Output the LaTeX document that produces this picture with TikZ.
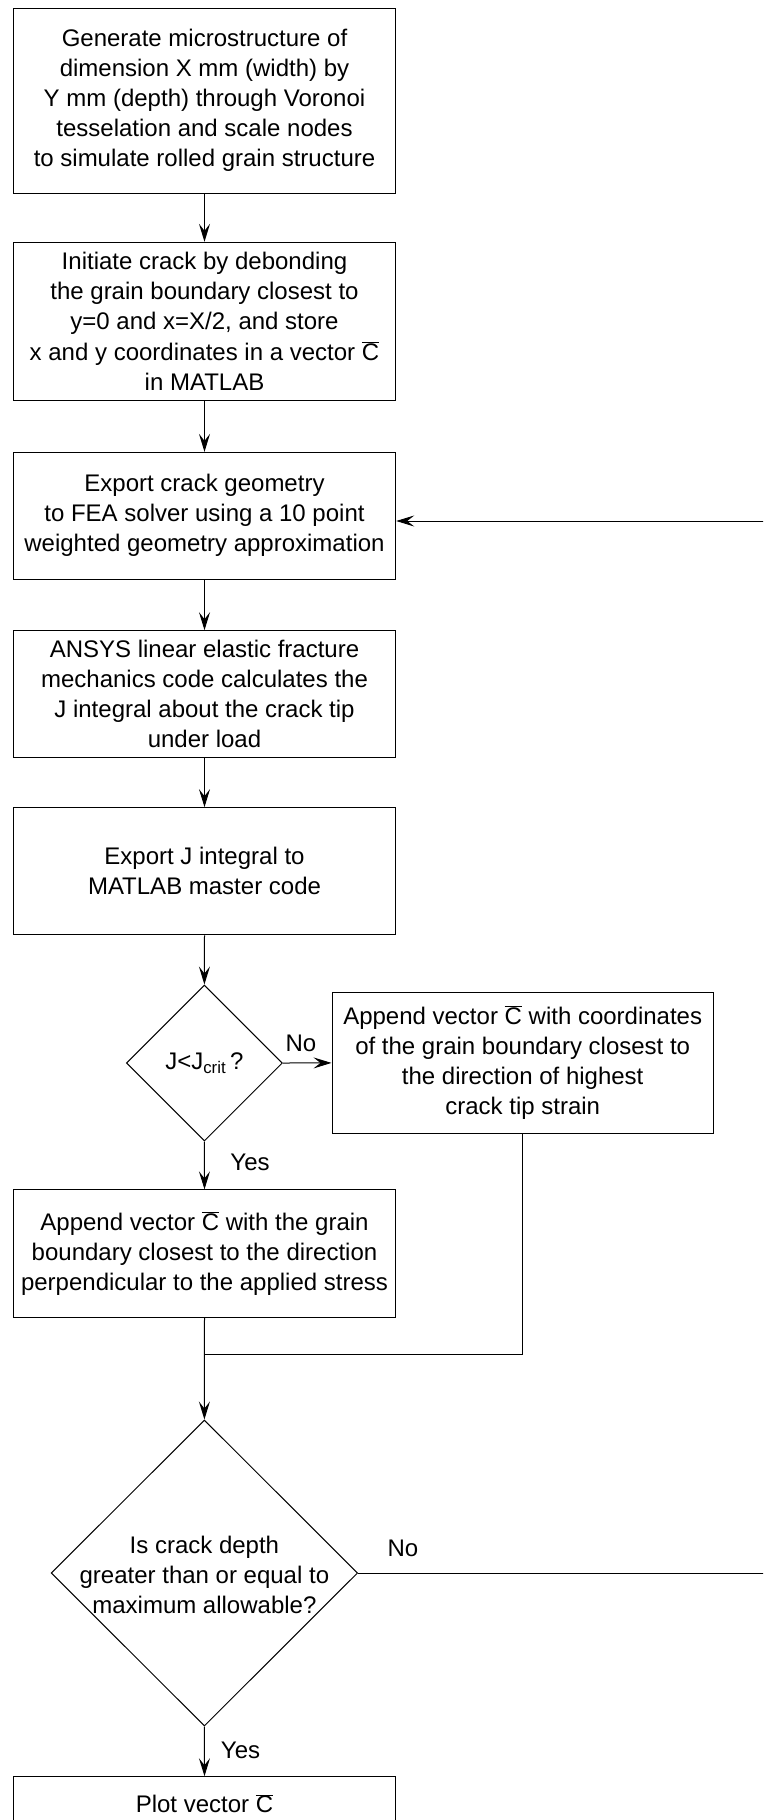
\documentclass[tikz,border=0pt]{standalone}
\usepackage{fontspec}
\setmainfont{Liberation Sans}
\usetikzlibrary{arrows.meta,shapes.geometric}
\newcommand{\cbar}{\(\overline{\mbox{C}}\)}
\begin{document}
\begin{tikzpicture}[x=1pt,y=-1pt,
  every node/.style={font=\fontsize{24}{30}\selectfont},
  stepbox/.style={draw, line width=1pt, minimum width=382.4pt, align=center, inner sep=0pt},
  dia/.style={draw, line width=1pt, diamond, inner sep=0pt, aspect=1},
  txt/.style={align=center, inner sep=0pt},
  conn/.style={line width=1pt},
  arr/.style={conn, -{Stealth[length=18pt,width=11pt,inset=7pt]}},
  lbl/.style={inner sep=0pt}
]
\useasboundingbox (0,0) rectangle (763,1820);
\clip (0,0) rectangle (763,1820);
\fill[white] (0,0) rectangle (763,1820);

\node[stepbox, minimum height=184.7pt] (b1) at (204.5,100.7)
  {Generate microstructure of\\dimension X mm (width) by\\Y mm (depth) through Voronoi\\tesselation and scale nodes\\to simulate rolled grain structure};
\node[stepbox, minimum height=158pt] (b2) at (204.5,321.3)
  {Initiate crack by debonding\\the grain boundary closest to\\y=0 and x=X/2, and store\\x and y coordinates in a vector \cbar\\in MATLAB};
\node[stepbox, minimum height=126.7pt] (b3) at (204.5,515.7)
  {Export crack geometry\\to FEA solver using a 10 point\\weighted geometry approximation};
\node[stepbox, minimum height=126.6pt] (b4) at (204.5,694)
  {ANSYS linear elastic fracture\\mechanics code calculates the\\J integral about the crack tip\\under load};
\node[stepbox, minimum height=127.3pt] (b5) at (204.5,871.3)
  {Export J integral to\\MATLAB master code};

\node[dia, minimum width=156pt, minimum height=156pt] (d1) at (204.4,1063) {};
\node[txt] at (204.4,1063) {J<J\textsubscript{crit}\,?};

\node[stepbox, minimum width=381.4pt, minimum height=140.3pt] (b6) at (522.7,1062.9)
  {Append vector \cbar{} with coordinates\\of the grain boundary closest to\\the direction of highest\\crack tip strain};
\node[stepbox, minimum height=127.3pt] (b7) at (204.5,1253.5)
  {Append vector \cbar{} with the grain\\boundary closest to the direction\\perpendicular to the applied stress};

\node[dia, minimum width=306.5pt, minimum height=306pt] (d2) at (204.4,1573) {};
\node[txt] at (204.4,1575) {Is crack depth\\greater than or equal to\\maximum allowable?};

\node[stepbox, minimum height=54pt] (b8) at (204.5,1803.7) {Plot vector \cbar};

\coordinate (j) at (204.4,1354);
\coordinate (r) at (800,521);

\draw[arr] (b1.south) -- (b2.north);
\draw[arr] (b2.south) -- (b3.north);
\draw[arr] (b3.south) -- (b4.north);
\draw[arr] (b4.south) -- (b5.north);
\draw[arr] (b5.south) -- (d1.north);
\draw[arr] (d1.east) -- (b6.west);
\node[lbl] at (301,1043) {No};
\draw[arr] (d1.south) -- (b7.north);
\node[lbl] at (250,1162) {Yes};
\draw[conn] (b6.south) |- (j);
\draw[arr] (b7.south) -- (d2.north);
\draw[arr] (d2.east) -| (r) -- (b3.east |- r);
\node[lbl] at (403,1548) {No};
\draw[arr] (d2.south) -- (b8.north);
\node[lbl] at (240.5,1750) {Yes};
\end{tikzpicture}
\end{document}
